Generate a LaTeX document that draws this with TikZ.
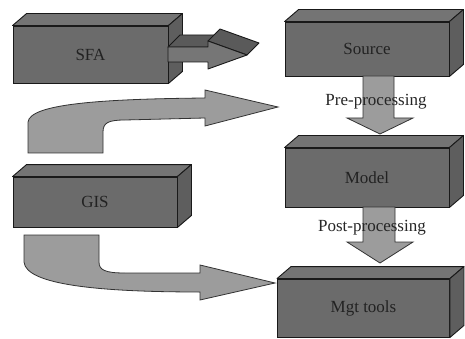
\documentclass[tikz,border=0pt]{standalone}
\usepackage{fontspec}
\setmainfont{Liberation Serif}
\usetikzlibrary{calc}
\definecolor{boxfront}{HTML}{6B6B6B}
\definecolor{boxtop}{HTML}{747474}
\definecolor{boxside}{HTML}{5E5E5E}
\definecolor{arrowgrey}{HTML}{9C9C9C}
\definecolor{sfafront}{HTML}{767676}
\definecolor{sfatop}{HTML}{5A5A5A}
\definecolor{txt}{HTML}{222222}
\tikzset{
  front/.style={draw=black!90, line width=0.9pt, fill=boxfront, inner sep=0pt,
    font=\fontsize{17}{20}\selectfont, text=txt},
  face/.style={draw=black!90, line width=0.9pt, line join=round},
  blockarrow/.style={draw=black!80, line width=0.8pt, fill=arrowgrey, line join=miter},
  lbl/.style={font=\fontsize{17}{20}\selectfont, text=black!85, inner sep=0pt},
}
\begin{document}
\begin{tikzpicture}[x=1pt,y=-1pt]
\useasboundingbox (0,0) rectangle (465,339);
\fill[white] (0,0) rectangle (465,339);

% front faces
\node[front, minimum width=155pt, minimum height=57pt] (sfa)   at (90.5,54.5)  {SFA};
\node[front, minimum width=164pt, minimum height=54pt] (src)   at (367,49)     {Source};
\node[front, minimum width=164pt, minimum height=59pt] (model) at (367,177.5)  {Model};
\node[front, minimum width=164pt, minimum height=50pt] (gis)   at (95,202)     {GIS};
\node[front, minimum width=172pt, minimum height=58pt] (mgt)   at (363.5,308)  {Mgt tools};

% top and side faces
\foreach \n in {sfa,src,model,gis,mgt}{
  \draw[face, fill=boxtop] (\n.north west) -- ++(14,-12) -- ($(\n.north east)+(14,-12)$) -- (\n.north east) -- cycle;
  \draw[face, fill=boxside] (\n.north east) -- ++(14,-12) -- ($(\n.south east)+(14,-12)$) -- (\n.south east) -- cycle;
}

% SFA -> Source 3D block arrow
\draw[face, fill=sfatop] (168,47) -- (180,35) -- (220,35) -- (208,47) -- cycle;
\draw[face, fill=sfatop] (208,41) -- (220,29) -- (259,43) -- (247,55) -- cycle;
\draw[face, fill=sfafront] (168,47) -- (208,47) -- (208,41) -- (247,55) -- (208,69) -- (208,62) -- (168,62) -- cycle;

% upper curved arrow
\draw[blockarrow] (28,153) -- (28,122) .. controls (30,104) and (100,99) .. (205,98)
  -- (205,90) -- (278,107) -- (205,126) -- (205,118) -- (125,120)
  .. controls (108,120) and (103,123) .. (103,132) -- (103,153) -- cycle;

% lower curved arrow
\draw[blockarrow] (24,235) -- (99,235) -- (99,262) .. controls (99,270) and (105,273) .. (125,273)
  -- (200,273) -- (200,265) -- (275,283) -- (200,300) -- (200,292)
  .. controls (100,292) and (26,285) .. (24,262) -- cycle;

% Pre-processing arrow
\draw[blockarrow] (363,76) -- (394,76) -- (394,118) -- (413,118) -- (380,134) -- (347,118) -- (363,118) -- cycle;
\node[lbl] (pre) at (376,102) {Pre-processing};

% Post-processing arrow
\draw[blockarrow] (363,207) -- (395,207) -- (395,242) -- (413,242) -- (380,263) -- (347,242) -- (363,242) -- cycle;
\node[lbl] (post) at (372,228) {Post-processing};
\end{tikzpicture}
\end{document}
